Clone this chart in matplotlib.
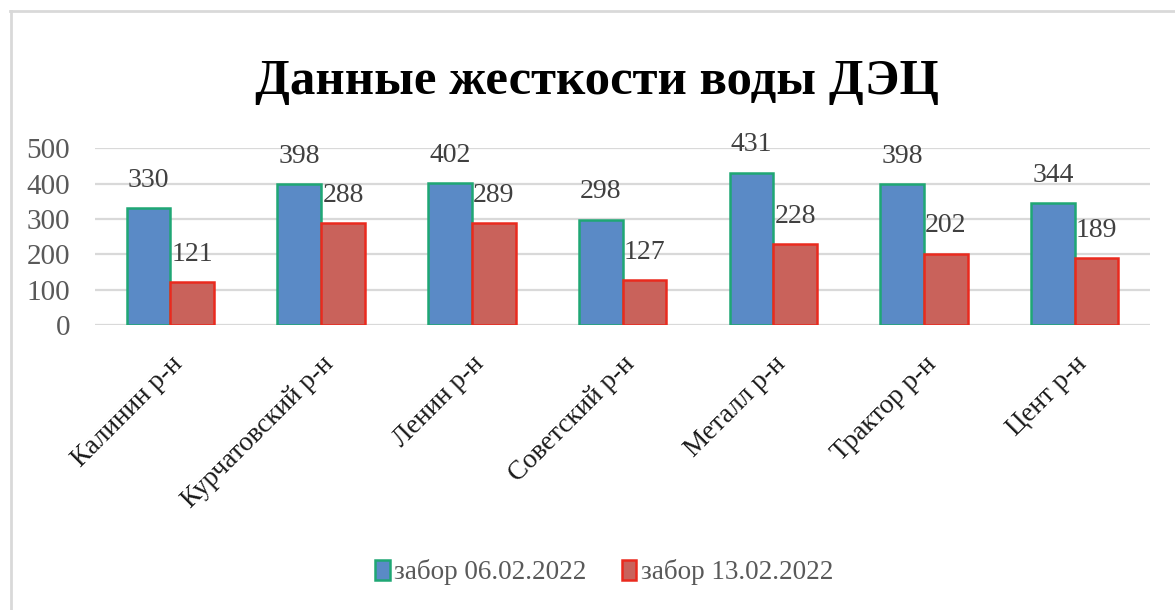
import matplotlib
matplotlib.use('Agg')
import matplotlib.pyplot as plt
import numpy as np
from matplotlib.lines import Line2D
from matplotlib.patches import Patch

districts = ['Калинин р-н', 'Курчатовский р-н', 'Ленин р-н', 'Советский р-н',
             'Металл р-н', 'Трактор р-н', 'Цент р-н']
sample_feb06 = [330, 398, 402, 298, 431, 398, 344]
sample_feb13 = [121, 288, 289, 127, 228, 202, 189]
series_names = ['забор 06.02.2022', 'забор 13.02.2022']
y_ticks = [0, 100, 200, 300, 400, 500]

serif = 'Liberation Serif'

fig = plt.figure(figsize=(11.75, 6.1), dpi=100)
fig.patch.set_facecolor('white')

# thin frame along top and left edges of the chart block
fig.add_artist(Line2D([10 / 1175, 1.0], [1 - 11 / 610, 1 - 11 / 610],
                      color='#d9d9d9', lw=2, transform=fig.transFigure))
fig.add_artist(Line2D([11 / 1175, 11 / 1175], [0.0, 1 - 11 / 610],
                      color='#d9d9d9', lw=2, transform=fig.transFigure))

ax = fig.add_axes([0.0809, 0.467, 0.8978, 0.29])

x = np.arange(len(districts))
width = 0.29

bars1 = ax.bar(x - width / 2, sample_feb06, width, color='#5a8ac6',
               edgecolor='#1fa774', linewidth=1.8, zorder=3)
bars2 = ax.bar(x + width / 2, sample_feb13, width, color='#c9625b',
               edgecolor='#ea2a1e', linewidth=1.8, zorder=3)

for bars, values in ((bars1, sample_feb06), (bars2, sample_feb13)):
    for b, v in zip(bars, values):
        ax.annotate(str(v), (b.get_x() + b.get_width() / 2, v),
                    xytext=(0, 20), textcoords='offset points',
                    ha='center', va='center', fontsize=20,
                    family=serif, color='#404040', clip_on=False, zorder=4)

ax.set_xlim(-0.5, len(districts) - 0.5)
ax.set_ylim(0, 500)
ax.set_yticks(y_ticks)
ax.yaxis.grid(True, color='#d9d9d9', linewidth=1.6, zorder=0)
ax.set_axisbelow(True)
for side in ('top', 'right', 'left', 'bottom'):
    ax.spines[side].set_visible(False)
ax.tick_params(axis='both', length=0)
ax.tick_params(axis='y', pad=18)

for lbl in ax.get_yticklabels():
    lbl.set_fontfamily(serif)
    lbl.set_fontsize(21)
    lbl.set_color('#595959')

ax.set_xticks(x)
ax.set_xticklabels(districts, rotation=45, ha='right', va='top',
                   rotation_mode='anchor', fontsize=19.5, family=serif,
                   color='#1a1a1a')
ax.tick_params(axis='x', pad=19)

fig.text(0.508, 0.865, 'Данные жесткости воды ДЭЦ', ha='center', va='center',
         fontsize=36.5, fontweight='bold', family=serif, color='black')

handles = [Patch(facecolor='#5a8ac6', edgecolor='#1fa774', linewidth=1.8),
           Patch(facecolor='#c9625b', edgecolor='#ea2a1e', linewidth=1.8)]
leg = fig.legend(handles, series_names, loc='center', bbox_to_anchor=(0.514, 0.062),
                 ncol=2, frameon=False, prop={'family': serif, 'size': 19.5},
                 handlelength=0.55, handleheight=0.75, handletextpad=0.15,
                 columnspacing=1.3)
for t in leg.get_texts():
    t.set_color('#595959')

fig.savefig('out.png', dpi=100)
